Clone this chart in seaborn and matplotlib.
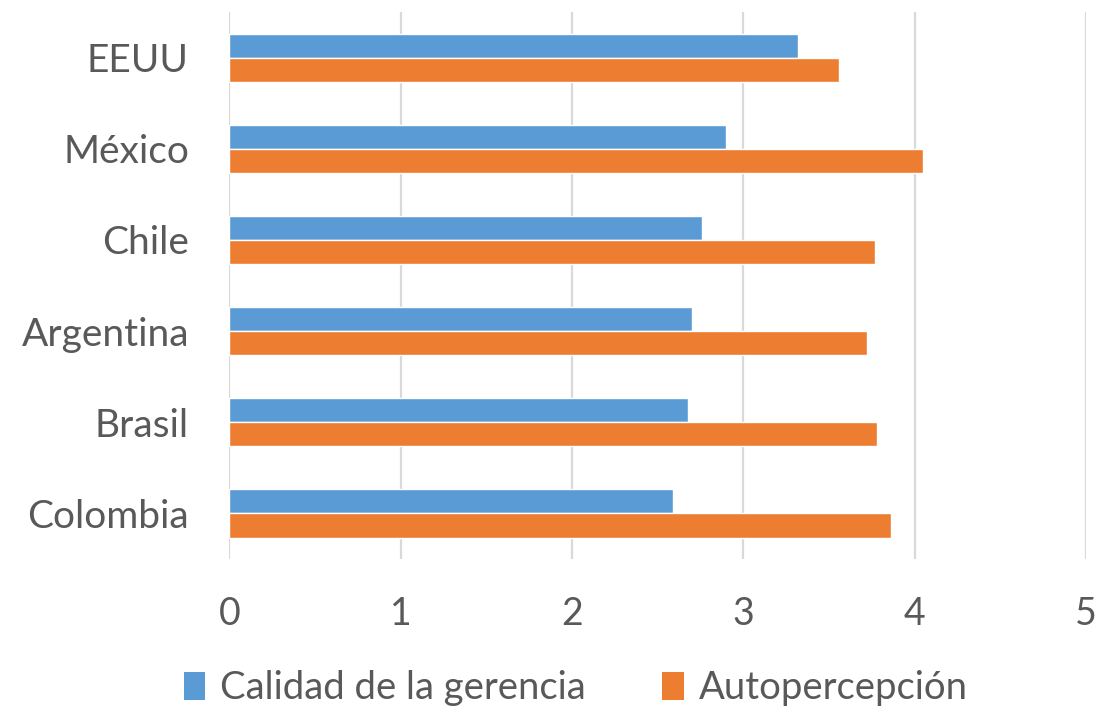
import matplotlib
matplotlib.use("Agg")
import matplotlib.pyplot as plt
import seaborn as sns
import pandas as pd
from matplotlib.patches import Patch

countries = ["EEUU", "México", "Chile", "Argentina", "Brasil", "Colombia"]
calidad = [3.32, 2.90, 2.76, 2.70, 2.68, 2.59]
autoper = [3.56, 4.05, 3.77, 3.72, 3.78, 3.86]
series = ["Calidad de la gerencia", "Autopercepción"]
colors = ["#5B9BD5", "#ED7D31"]
xticks = [0, 1, 2, 3, 4, 5]

df = pd.DataFrame({
    "País": countries * 2,
    "Valor": calidad + autoper,
    "Serie": [series[0]] * len(countries) + [series[1]] * len(countries),
})

sns.set_theme(style="white")
plt.rcParams["font.family"] = ["Lato", "DejaVu Sans"]

fig = plt.figure(figsize=(10.97, 7.13), dpi=100)
ax = fig.add_axes([0.209, 0.216, 0.781, 0.767])

sns.barplot(data=df, y="País", x="Valor", hue="Serie", order=countries,
            hue_order=series, palette=colors, orient="h", width=0.53,
            gap=0, ax=ax, legend=False, saturation=1, errorbar=None)

ax.set_xlim(0, 5)
ax.set_xticks(xticks)
ax.set_xlabel("")
ax.set_ylabel("")
ax.grid(axis="x", color="#D9D9D9", linewidth=1.6)
ax.grid(axis="y", visible=False)
ax.set_axisbelow(True)
for s in ax.spines.values():
    s.set_visible(False)
ax.tick_params(axis="x", length=0, pad=27, labelsize=27, labelcolor="#595959")
ax.tick_params(axis="y", length=0, pad=29, labelsize=28, labelcolor="#595959")

handles = [Patch(facecolor=c, edgecolor="none") for c in colors]
fig.legend(handles, series, loc="center", bbox_to_anchor=(0.525, 0.035),
           ncol=2, frameon=False, fontsize=27.5, labelcolor="#595959",
           handlelength=0.55, handleheight=0.75, handletextpad=0.4,
           columnspacing=2.0)

fig.savefig("out.png", dpi=100)
